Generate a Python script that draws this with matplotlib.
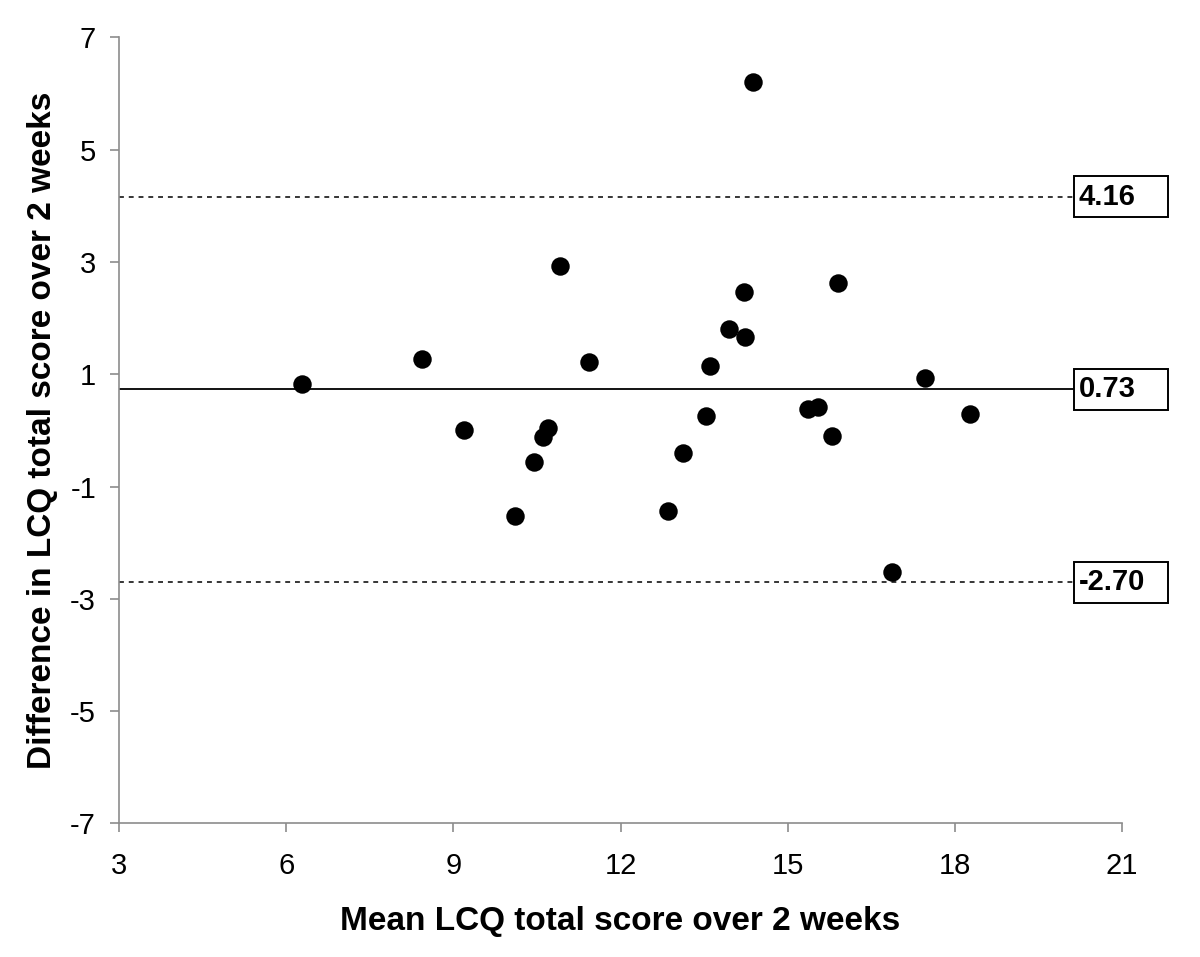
import matplotlib
matplotlib.use("Agg")
import matplotlib.pyplot as plt
from matplotlib.patches import Rectangle

plt.rcParams['font.family'] = ['Liberation Sans', 'DejaVu Sans']

# Data
mean_score = [6.29, 8.43, 9.19, 10.11, 10.45, 10.61, 10.70, 10.91, 11.44, 12.86,
              13.12, 13.53, 13.61, 13.95, 14.21, 14.23, 14.37, 15.37, 15.55, 15.79,
              15.90, 16.88, 17.46, 18.27]
diff_score = [0.83, 1.27, 0.01, -1.52, -0.56, -0.12, 0.04, 2.93, 1.22, -1.43,
              -0.40, 0.26, 1.15, 1.80, 2.46, 1.67, 6.21, 0.38, 0.41, -0.10,
              2.62, -2.52, 0.94, 0.29]
ref_values = [4.16, 0.73, -2.70]
ref_styles = ['dashed', 'solid', 'dashed']
x_ticks = [3, 6, 9, 12, 15, 18, 21]
y_ticks = [-7, -5, -3, -1, 1, 3, 5, 7]

fig = plt.figure(figsize=(12, 9.57), dpi=100)
ax = fig.add_axes([0.0992, 0.1395, 0.8358, 0.8215])

ax.set_xlim(3, 21)
ax.set_ylim(-7, 7)

for val, style in zip(ref_values, ref_styles):
    if style == 'dashed':
        ax.axhline(val, color='black', lw=1.1, linestyle=(0, (3.2, 3.2)), zorder=2)
    else:
        ax.axhline(val, color='black', lw=1.3, zorder=2)
    # label box
    box_x0, box_w, box_h = 20.13, 1.69, 0.73
    rect = Rectangle((box_x0, val - box_h / 2), box_w, box_h, facecolor='white',
                     edgecolor='black', lw=1.4, clip_on=False, zorder=5)
    ax.add_patch(rect)
    ax.text(box_x0 + 0.09, val, f"{val:.2f}", fontsize=21, fontweight='bold',
            ha='left', va='center', zorder=6, clip_on=False)

ax.plot(mean_score, diff_score, 'o', color='black', markersize=13.3,
        markeredgewidth=0, zorder=4)

ax.set_xticks(x_ticks)
ax.set_yticks(y_ticks)
ax.set_xticklabels([str(t) for t in x_ticks])
ax.set_yticklabels([str(t) for t in y_ticks])

for s in ['top', 'right']:
    ax.spines[s].set_visible(False)
for s in ['left', 'bottom']:
    ax.spines[s].set_color('#8c8c8c')
    ax.spines[s].set_linewidth(1.2)

ax.tick_params(axis='both', direction='out', length=6.5, width=1.2, color='#8c8c8c',
               labelsize=21, labelcolor='black')
ax.tick_params(axis='x', pad=14)
ax.tick_params(axis='y', pad=10)

ax.set_xlabel('Mean LCQ total score over 2 weeks', fontsize=24, fontweight='bold',
              labelpad=19)
ax.set_ylabel('Difference in LCQ total score over 2 weeks', fontsize=24,
              fontweight='bold', labelpad=9)

fig.savefig('out.png', dpi=100)
